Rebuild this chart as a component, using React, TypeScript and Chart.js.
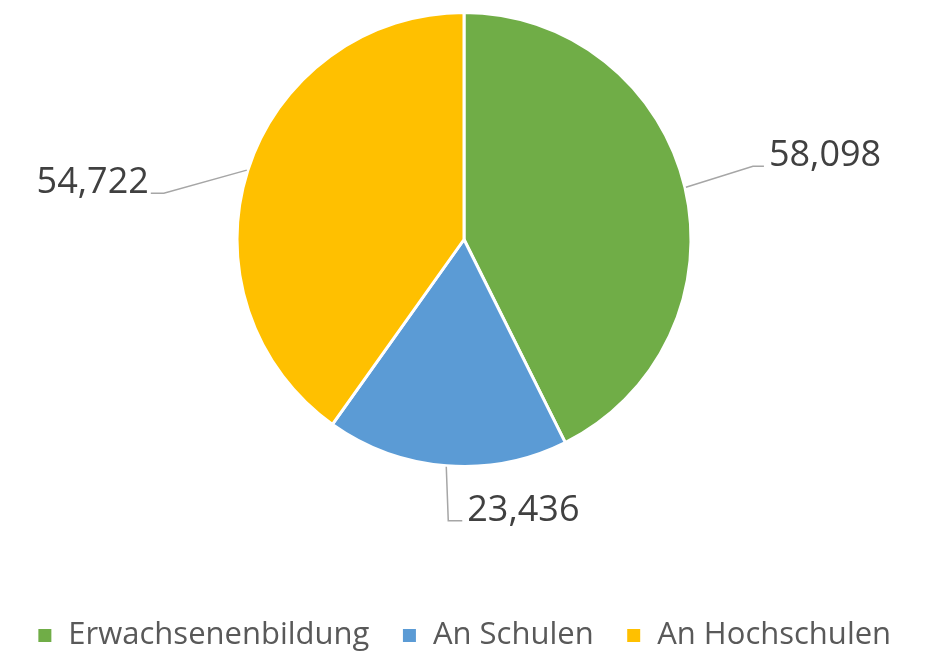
import React, { useEffect, useRef } from "react";
import { Chart, registerables } from "chart.js";

Chart.register(...registerables);

const categories = ["Erwachsenenbildung", "An Schulen", "An Hochschulen"];
const values = [58098, 23436, 54722];
const colors = ["#70AD47", "#5B9BD5", "#FFC000"];

// leader-line geometry per slice: elbow offset from the slice edge, tick direction and length
const leaderElbow = [
  [67, -21],
  [2, 54],
  [-83, 23],
];
const leaderTick = [11, 14, -13];

const FONT = "'Open Sans', 'DejaVu Sans', sans-serif";

const labelPlugin = {
  id: "outerLabels",
  afterDatasetsDraw(chart: any) {
    const ctx = chart.ctx;
    const meta = chart.getDatasetMeta(0);
    ctx.save();
    meta.data.forEach((arc: any, i: number) => {
      const { x, y, startAngle, endAngle, outerRadius } = arc.getProps(
        ["x", "y", "startAngle", "endAngle", "outerRadius"],
        true
      );
      const mid = (startAngle + endAngle) / 2;
      const ex = x + Math.cos(mid) * (outerRadius + 1);
      const ey = y + Math.sin(mid) * (outerRadius + 1);
      const bx = ex + leaderElbow[i][0];
      const by = ey + leaderElbow[i][1];
      const tx = bx + leaderTick[i];
      ctx.strokeStyle = "#A6A6A6";
      ctx.lineWidth = 1.5;
      ctx.beginPath();
      ctx.moveTo(ex, ey);
      ctx.lineTo(bx, by);
      ctx.lineTo(tx, by);
      ctx.stroke();
      ctx.fillStyle = "#404040";
      ctx.font = `36px ${FONT}`;
      ctx.textBaseline = "alphabetic";
      const txt = values[i].toLocaleString("en-US");
      if (leaderTick[i] >= 0) {
        ctx.textAlign = "left";
        ctx.fillText(txt, tx + 5, by);
      } else {
        ctx.textAlign = "right";
        ctx.fillText(txt, tx - 2, by);
      }
    });
    ctx.restore();
  },
};

export default function App() {
  const ref = useRef<HTMLCanvasElement>(null);
  useEffect(() => {
    if (!ref.current) return;
    const chart = new Chart(ref.current, {
      type: "pie",
      data: {
        labels: categories,
        datasets: [
          {
            data: values,
            backgroundColor: colors,
            borderColor: "#FFFFFF",
            borderWidth: 3,
          },
        ],
      },
      options: {
        animation: false,
        responsive: true,
        maintainAspectRatio: false,
        layout: { padding: { top: 11, bottom: -10, left: 0, right: 5 } },
        plugins: {
          tooltip: { enabled: false },
          legend: {
            position: "bottom",
            title: {
              display: true,
              text: " ",
              font: { size: 10, lineHeight: 1 },
              padding: { top: 0, bottom: 110 },
            },
            labels: {
              boxWidth: 16,
              boxHeight: 16,
              padding: 32,
              color: "#595959",
              font: { size: 31, family: FONT, lineHeight: 0.5 },
            },
          },
        },
      },
      plugins: [labelPlugin],
    });
    return () => chart.destroy();
  }, []);
  return (
    <div style={{ position: "fixed", left: 0, top: 0, width: 933, height: 651, background: "#fff" }}>
      <canvas ref={ref} />
    </div>
  );
}
